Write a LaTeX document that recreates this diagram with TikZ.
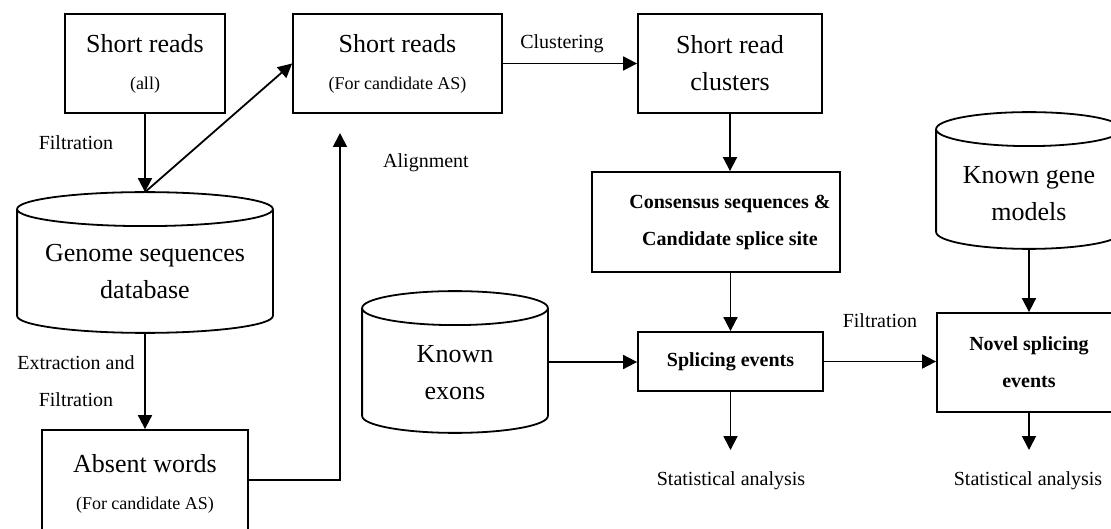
\documentclass[tikz,border=0pt]{standalone}
\usepackage{fontspec}
\setmainfont{Liberation Serif}
\usetikzlibrary{arrows.meta,calc}
% database drum drawn round an empty node
\newcommand{\drum}[1]{%
  \draw let \p1=(#1.north west), \p2=(#1.south east), \n1={(\x2-\x1)/2} in
    (\x1,\y1-17pt) -- (\x1,\y2+17pt) arc[start angle=180,end angle=360,x radius=\n1,y radius=17pt]
    -- (\x2,\y1-17pt) (\x1+\n1,\y1-17pt) ellipse[x radius=\n1,y radius=17pt];}
\begin{document}
\begin{tikzpicture}[x=1pt,y=1pt,line width=1.8pt,
    main/.style={font=\fontsize{26}{37}\selectfont,align=center},
    box/.style={draw,main,inner sep=0pt},
    bold/.style={align=center,inner sep=0pt,font=\fontsize{20}{37}\selectfont\bfseries},
    bbox/.style={draw,bold},
    lbl/.style={font=\fontsize{20}{37}\selectfont,align=center},
    arr/.style={-{Triangle[length=14pt,width=14pt]}}]
\clip (0,0) rectangle (1111,528);
\fill[white] (0,0) rectangle (1111,528);
% boxes
\node[box,minimum width=160pt,minimum height=99pt] (sra) at (145,464.5) {Short reads\\\fontsize{18}{36}\selectfont (all)};
\node[box,minimum width=209pt,minimum height=99pt] (srcas) at (397.5,464.5) {Short reads\\\fontsize{18}{34}\selectfont (For candidate AS)};
\node[box,minimum width=184pt,minimum height=99pt] (clu) at (730,464.5) {Short read\\clusters};
\node[draw,minimum width=248pt,minimum height=100pt] (cons) at (716,306) {};
\node[bold] (const) at ([xshift=14pt]cons.center) {Consensus sequences \&\\Candidate splice site};
\node[bbox,minimum width=185pt,minimum height=59pt] (spl) at (730.5,166.5) {Splicing events};
\node[bbox,minimum width=184pt,minimum height=99pt] (nov) at (1029,165.5) {Novel splicing\\events};
\node[box,minimum width=206pt,minimum height=107pt] (abs) at (145,44.5) {Absent words\\\fontsize{18}{35}\selectfont (For candidate AS)};
% databases
\node[minimum width=254pt,minimum height=139pt] (gdb) at (145,265.5) {};
\node[minimum width=184pt,minimum height=140pt] (kex) at (455,166) {};
\node[minimum width=184pt,minimum height=135pt] (kgm) at (1029,347.5) {};
\drum{gdb} \drum{kex} \drum{kgm}
\node[main] (gdbt) at ([yshift=-9pt]gdb.center) {Genome sequences\\database};
\node[main] (kext) at ([yshift=-11pt]kex.center) {Known\\exons};
\node[main] (kgmt) at ([yshift=-13pt]kgm.center) {Known gene\\models};
% labels
\node[lbl] (flt1) at (76,385) {Filtration};
\node[lbl] (clst) at (562,484) {Clustering};
\node[lbl] (algn) at (426,365) {Alignment};
\node[lbl] (extr) at (76,146.5) {Extraction and\\Filtration};
\node[lbl] (flt2) at (880,207) {Filtration};
\node[lbl] (st1) at (731,47) {Statistical analysis};
\node[lbl] (st2) at (1028,47) {Statistical analysis};
\coordinate (e1) at (730.5,78);
\coordinate (e2) at (1029,78);
\coordinate (alnend) at (340,395);
% connectors
\draw[arr] (sra.south) -- (gdb.north);
\draw[arr] (gdb.north) -- (srcas.west);
\draw[arr] (srcas.east) -- (clu.west);
\draw[arr] (clu.south) -- (clu.south |- cons.north);
\draw[arr] (spl.north |- cons.south) -- (spl.north);
\draw[arr] (kex.east) -- (kex.east -| spl.west);
\draw[arr] (spl.east) -- (spl.east -| nov.west);
\draw[arr] (kgm.south) -- (nov.north);
\draw[arr] (spl.south) -- (e1);
\draw[arr] (nov.south) -- (e2);
\draw[arr] (gdb.south) -- (abs.north);
\draw[arr] ([yshift=3.5pt]abs.east) -| (alnend);
\end{tikzpicture}
\end{document}
